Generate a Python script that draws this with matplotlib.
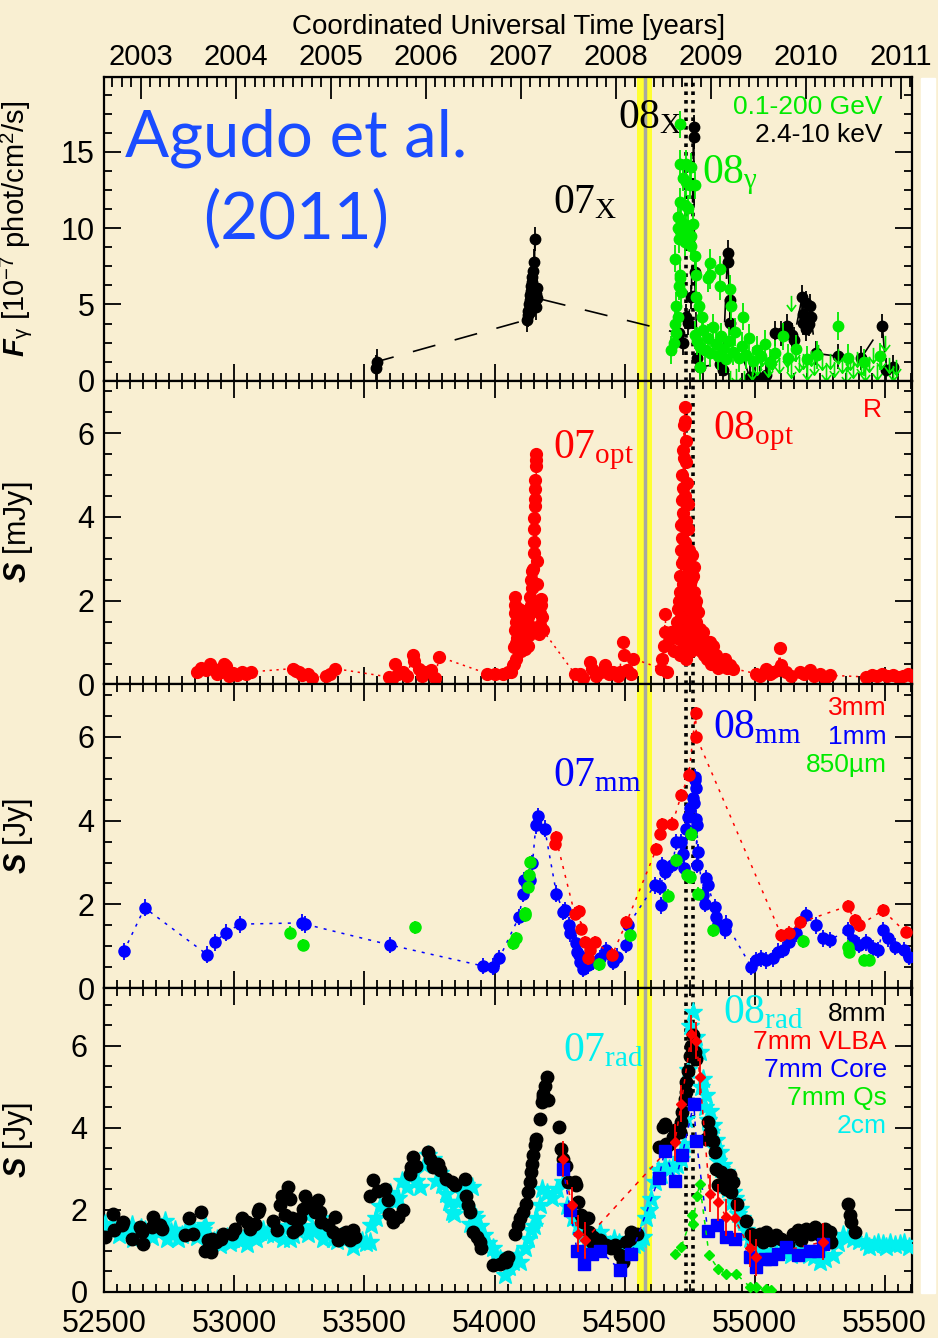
import numpy as np
import matplotlib.pyplot as plt
from matplotlib.ticker import MultipleLocator, FormatStrFormatter
from matplotlib.path import Path
from matplotlib.patches import Rectangle

plt.rcParams['font.family'] = 'Liberation Sans'
plt.rcParams['mathtext.fontset'] = 'custom'
plt.rcParams['mathtext.rm'] = 'Liberation Serif'
plt.rcParams['mathtext.it'] = 'Liberation Serif:italic'
plt.rcParams['mathtext.bf'] = 'Liberation Sans:bold:italic'
plt.rcParams['mathtext.sf'] = 'Liberation Sans'

BG = '#f9efd2'
GREEN = '#00ea00'
RED = '#ff0000'
BLUE = '#0000ff'
CYAN = '#00f0f0'
BLACK = '#000000'

# --- light curves (MJD, flux) ---
# X-ray 2.4-10 keV, 1e-7 phot/cm2/s
xray = [(53546, 0.86), (53548, 1.25),
        (54125, 4.0), (54128, 4.3), (54130, 4.6), (54133, 5.0), (54135, 4.5), (54136, 5.3),
        (54138, 5.6), (54140, 5.9), (54142, 6.2), (54144, 6.5), (54146, 6.8), (54148, 7.2),
        (54150, 7.8), (54152, 5.5), (54155, 9.3), (54156, 5.2), (54158, 4.8), (54160, 5.7),
        (54162, 6.1), (54165, 5.4),
        (54711, 3.1), (54723, 2.5), (54737, 4.2), (54742, 3.8), (54757, 5.5), (54765, 16.6),
        (54766, 16.0), (54769, 7.1), (54780, 1.5), (54789, 0.9), (54865, 1.1), (54877, 0.7),
        (54896, 8.4), (54897, 7.8), (54904, 5.3), (54905, 3.8), (54981, 0.26), (55019, 0.15),
        (55045, 0.4), (55080, 3.1), (55100, 3.1), (55126, 3.6), (55145, 3.0), (55150, 2.7),
        (55183, 5.5), (55184, 3.8), (55185, 4.4), (55198, 5.1), (55199, 3.4), (55210, 3.7),
        (55213, 4.9), (55217, 4.2), (55234, 1.8), (55320, 1.6), (55410, 1.5), (55491, 3.6),
        (55505, 0.7), (55530, 0.9)]

# gamma-ray 0.1-200 GeV detections
gamma = [(54680, 2.0), (54690, 2.5), (54693, 3.7), (54693, 8.0), (54697, 3.1), (54699, 4.9),
         (54704, 10.0), (54704, 10.7), (54705, 4.2), (54708, 6.2), (54708, 9.3), (54712, 6.7),
         (54712, 6.9), (54712, 9.8), (54712, 11.7), (54712, 14.2), (54712, 16.8), (54716, 5.8),
         (54718, 10.4), (54723, 13.3), (54731, 11.5), (54731, 9.1), (54737, 13.0), (54737, 14.2),
         (54737, 10.2), (54737, 9.7), (54744, 11.3), (54750, 12.8), (54757, 14.0), (54757, 9.5),
         (54757, 8.8), (54763, 10.3), (54769, 12.8), (54769, 8.2), (54770, 3.0), (54773, 6.9),
         (54776, 5.5), (54780, 2.6), (54786, 4.9), (54789, 0.9), (54790, 2.2), (54796, 4.2),
         (54800, 3.3), (54810, 2.0), (54820, 2.8), (54822, 6.7), (54827, 7.7), (54830, 6.9),
         (54830, 1.8), (54840, 3.5), (54850, 2.4), (54860, 1.6), (54865, 7.3), (54865, 6.2),
         (54870, 2.9), (54880, 2.1), (54890, 1.4), (54900, 2.6), (54904, 6.0), (54910, 4.9),
         (54915, 1.9), (54925, 3.2), (54940, 1.5), (54950, 2.3), (54954, 4.2), (54965, 1.7),
         (54980, 2.8), (54995, 1.3), (55010, 2.0), (55025, 1.6), (55040, 2.4), (55060, 1.2),
         (55080, 1.8), (55108, 2.9), (55130, 1.5), (55160, 2.1), (55200, 1.4), (55240, 1.7),
         (55319, 3.6), (55360, 1.5), (55420, 1.2), (55480, 1.6)]

# gamma-ray upper limits
gamma_ul = [(54905, 0.2), (54930, 0.3), (54960, 0.2), (54990, 0.6), (55010, 0.9), (55030, 1.5),
            (55050, 0.8), (55065, 1.2), (55080, 1.6), (55095, 1.0), (55140, 5.1), (55125, 1.4),
            (55140, 0.7), (55155, 1.8), (55170, 1.1), (55185, 1.3), (55200, 0.6), (55215, 1.5),
            (55230, 0.9), (55245, 1.9), (55260, 1.2), (55275, 0.5), (55290, 1.3), (55305, 0.8),
            (55320, 1.6), (55335, 1.0), (55350, 0.4), (55365, 1.2), (55380, 0.7), (55395, 1.4),
            (55410, 0.9), (55425, 0.5), (55440, 1.1), (55455, 1.7), (55470, 0.6), (55485, 1.3),
            (55500, 2.5), (55515, 1.0), (55530, 0.5), (55545, 0.9)]

# optical R band, mJy
optical = [(52857, 0.3), (52870, 0.4), (52890, 0.34), (52905, 0.5), (52920, 0.38), (52935, 0.25),
           (52950, 0.3), (52960, 0.5), (52968, 0.45), (52980, 0.2), (52995, 0.28), (53010, 0.22),
           (53030, 0.3), (53045, 0.26), (53064, 0.3),
           (53225, 0.38), (53235, 0.32), (53248, 0.3), (53260, 0.22), (53283, 0.26), (53300, 0.15),
           (53352, 0.21), (53368, 0.25), (53386, 0.38),
           (53593, 0.18), (53605, 0.12), (53616, 0.5), (53630, 0.25), (53650, 0.3), (53665, 0.2),
           (53685, 0.7), (53690, 0.55), (53708, 0.38), (53720, 0.2), (53731, 0.3), (53754, 0.34),
           (53770, 0.15), (53788, 0.66),
           (53972, 0.26), (54001, 0.26), (54033, 0.26), (54050, 0.3), (54065, 0.3), (54071, 0.46),
           (54075, 0.9), (54076, 0.5), (54077, 1.3), (54078, 1.9), (54079, 1.7), (54080, 2.1),
           (54081, 1.0), (54082, 1.5), (54083, 1.8), (54084, 0.62), (54086, 1.1), (54088, 1.3),
           (54090, 1.6), (54092, 0.95), (54095, 1.8), (54098, 1.65), (54100, 1.25), (54103, 0.8),
           (54105, 1.4), (54108, 1.75), (54110, 1.0), (54112, 1.3), (54115, 1.5), (54118, 0.85),
           (54120, 1.7), (54122, 1.55), (54125, 1.2), (54128, 1.6), (54130, 0.93), (54133, 1.17),
           (54136, 2.1), (54138, 1.4), (54140, 2.5), (54142, 1.9), (54144, 2.7), (54146, 2.3),
           (54148, 2.76), (54150, 3.15), (54151, 3.39), (54152, 3.71),
           (54153, 3.98), (54154, 4.26), (54155, 4.42), (54156, 4.66), (54157, 4.89), (54158, 5.21),
           (54159, 5.37), (54160, 5.49), (54162, 2.95), (54164, 2.4), (54167, 1.96), (54170, 1.73),
           (54172, 1.2), (54174, 1.41), (54176, 1.7), (54178, 2.04), (54180, 1.9), (54182, 1.6),
           (54185, 1.3),
           (54308, 0.26), (54327, 0.26), (54340, 0.15), (54366, 0.54), (54373, 0.38), (54390, 0.2),
           (54410, 0.3), (54424, 0.46), (54440, 0.25), (54456, 0.3), (54475, 0.2), (54481, 0.3),
           (54494, 1.01), (54496, 0.7), (54510, 0.35), (54526, 0.26), (54532, 0.62),
           (54641, 0.38), (54645, 0.62), (54650, 0.93), (54654, 1.25), (54656, 1.69), (54665, 0.3),
           (54673, 1.09), (54678, 1.25), (54690, 0.8), (54700, 1.5), (54702, 1.1), (54705, 1.8),
           (54708, 2.0), (54710, 1.3), (54712, 2.6), (54714, 2.2), (54715, 0.7), (54716, 3.2),
           (54717, 1.6), (54718, 3.8), (54719, 2.9), (54720, 4.4), (54721, 3.5), (54722, 5.0),
           (54723, 4.1), (54724, 2.4), (54725, 5.6), (54725, 1.0), (54726, 4.7), (54727, 3.0),
           (54728, 6.2), (54729, 5.4), (54730, 2.0), (54730, 3.9), (54731, 6.63), (54732, 4.5),
           (54733, 6.3), (54734, 3.4), (54735, 5.8), (54735, 0.6), (54736, 2.6), (54737, 5.3),
           (54738, 3.9), (54739, 2.1), (54740, 4.8), (54740, 1.2), (54741, 3.0), (54742, 4.3),
           (54743, 2.3), (54744, 1.4), (54745, 3.7), (54745, 0.9), (54746, 2.7), (54747, 1.8),
           (54748, 3.2), (54749, 2.2), (54750, 2.8), (54750, 1.5), (54752, 2.4), (54753, 1.2),
           (54755, 2.0), (54755, 0.8), (54757, 2.5), (54758, 1.6), (54759, 1.1), (54760, 3.1),
           (54762, 1.9), (54763, 2.6), (54765, 1.4), (54766, 2.2), (54768, 2.8), (54770, 1.9),
           (54772, 1.0), (54775, 1.5), (54776, 2.0), (54778, 1.2), (54780, 0.9), (54782, 1.73),
           (54785, 1.2), (54789, 1.33), (54793, 0.8), (54797, 1.1), (54801, 1.25), (54805, 0.7),
           (54810, 0.9), (54815, 0.6), (54820, 0.75), (54827, 1.01), (54833, 0.5), (54840, 0.93),
           (54853, 0.7), (54860, 0.4), (54870, 0.55), (54877, 0.45), (54885, 0.62), (54895, 0.4),
           (54904, 0.46), (54917, 0.38),
           (55006, 0.26), (55020, 0.2), (55045, 0.38), (55060, 0.25), (55070, 0.3), (55090, 0.35),
           (55096, 0.86), (55100, 0.46), (55122, 0.3), (55140, 0.2), (55173, 0.3), (55190, 0.25),
           (55211, 0.34), (55230, 0.2), (55250, 0.26), (55270, 0.15), (55288, 0.22),
           (55429, 0.18), (55450, 0.22), (55470, 0.2), (55490, 0.25), (55510, 0.2), (55530, 0.22),
           (55550, 0.18), (55570, 0.2), (55590, 0.25), (55605, 0.2)]

# mm-wave, Jy
mm1 = [(52575, 0.88), (52655, 1.92), (52896, 0.8), (52926, 1.1), (52967, 1.33), (53023, 1.53),
       (53260, 1.56), (53271, 1.53), (53600, 1.03), (53956, 0.53), (53995, 0.51), (54018, 0.71),
       (54094, 1.7), (54110, 2.26), (54115, 2.58), (54125, 2.46), (54136, 2.58), (54146, 2.98),
       (54159, 3.89), (54167, 4.11), (54193, 3.81), (54238, 2.26), (54265, 1.82), (54270, 1.86),
       (54285, 1.5), (54289, 1.31), (54315, 1.07), (54318, 0.87), (54325, 0.79), (54330, 0.63),
       (54340, 0.47), (54360, 0.55), (54380, 0.63), (54405, 0.71), (54430, 0.91), (54449, 0.79),
       (54456, 0.63), (54469, 0.75), (54507, 1.03), (54513, 1.5), (54616, 2.46), (54635, 2.42),
       (54641, 1.98), (54645, 2.94), (54654, 2.78), (54684, 2.94), (54699, 3.49), (54718, 3.49),
       (54725, 3.21), (54727, 2.86), (54737, 3.81), (54744, 4.09), (54750, 4.29), (54763, 4.53),
       (54766, 4.41), (54769, 4.96), (54772, 5.04), (54775, 4.77), (54776, 4.05), (54777, 2.94),
       (54778, 3.89), (54782, 3.25), (54801, 2.22), (54810, 2.02), (54814, 2.62), (54820, 2.46),
       (54846, 1.94), (54850, 1.70), (54859, 1.54), (54885, 1.38), (54891, 1.54), (54987, 0.51),
       (55006, 0.67), (55025, 0.71), (55045, 0.67), (55070, 0.71), (55090, 0.87), (55109, 0.91),
       (55134, 1.10), (55160, 1.31), (55199, 1.74), (55234, 1.5), (55262, 1.19), (55288, 1.15),
       (55358, 1.38), (55378, 1.15), (55403, 1.03), (55429, 1.1), (55455, 0.95), (55474, 0.91),
       (55493, 1.38), (55512, 1.19), (55538, 0.99), (55576, 0.91), (55595, 0.75)]

mm3 = [(54231, 3.45), (54235, 3.61), (54308, 1.78), (54325, 1.84), (54334, 1.42), (54347, 1.1),
       (54360, 0.71), (54366, 0.91), (54385, 1.1), (54453, 0.8), (54507, 1.57), (54622, 3.32),
       (54635, 3.69), (54645, 3.91), (54684, 3.93), (54718, 4.61), (54747, 5.1), (54773, 6.56),
       (54776, 6.0), (55103, 1.26), (55132, 1.33), (55176, 1.57), (55358, 1.96), (55384, 1.62),
       (55403, 1.5), (55493, 1.86), (55580, 1.34)]

sub850 = [(53213, 1.33), (53262, 1.03), (53696, 1.45), (54071, 1.07), (54081, 1.19), (54116, 1.8),
          (54119, 1.74), (54128, 2.42), (54132, 2.70), (54135, 3.01), (54403, 0.57), (54520, 1.26),
          (54667, 2.21), (54699, 3.05), (54740, 2.7), (54750, 2.66), (54757, 3.69), (54782, 2.26),
          (54840, 1.38), (55186, 1.12), (55358, 0.99), (55362, 0.87), (55420, 0.67), (55440, 0.67)]

# cm-wave and VLBA, Jy
mm8 = [(52503, 1.34), (52535, 1.91), (52537, 1.5), (52567, 1.62), (52573, 1.70), (52605, 1.30),
       (52637, 1.58), (52645, 1.46), (52650, 1.18), (52682, 1.58), (52686, 1.82), (52714, 1.62),
       (52720, 1.54), (52810, 1.38), (52827, 1.79), (52842, 1.42), (52872, 1.95), (52887, 1.01),
       (52900, 1.26), (52910, 0.97), (52913, 1.30), (52930, 1.22), (52950, 1.30), (52957, 1.42),
       (52989, 1.42), (53002, 1.54), (53028, 1.79), (53047, 1.70), (53060, 1.54), (53079, 1.66),
       (53092, 1.95), (53096, 2.03), (53149, 1.74), (53162, 1.50), (53175, 2.11), (53182, 2.35),
       (53194, 1.87), (53207, 2.56), (53213, 2.27), (53220, 1.79), (53226, 1.46), (53239, 1.54),
       (53252, 1.79), (53265, 2.03), (53271, 2.35), (53284, 2.19), (53297, 2.11), (53310, 1.95),
       (53322, 2.23), (53329, 1.95), (53333, 1.70), (53361, 1.62), (53380, 1.46), (53386, 1.82),
       (53399, 1.26), (53412, 1.42), (53431, 1.46), (53444, 1.26), (53457, 1.50), (53463, 1.34),
       (53521, 2.35), (53531, 2.72), (53553, 2.47), (53578, 2.51), (53591, 2.23), (53595, 1.91),
       (53610, 1.70), (53630, 1.82), (53649, 1.99), (53674, 2.88), (53678, 3.04), (53687, 3.29),
       (53700, 3.08), (53745, 3.41), (53751, 3.24), (53764, 3.04), (53783, 3.12), (53790, 2.96),
       (53815, 2.76), (53835, 2.68), (53847, 2.60), (53886, 2.76), (53892, 2.35), (53899, 2.11),
       (53905, 1.95), (53918, 1.46), (53931, 1.34), (53943, 1.22), (53950, 1.06), (53995, 0.65),
       (54020, 0.69), (54040, 0.81), (54046, 0.74), (54052, 0.85), (54078, 1.42), (54091, 1.62),
       (54097, 1.79), (54110, 1.95), (54120, 2.15), (54129, 2.44), (54136, 2.68), (54142, 2.92),
       (54146, 3.12), (54148, 3.33), (54155, 3.57), (54161, 3.73), (54174, 4.22), (54181, 4.63),
       (54185, 4.75), (54188, 4.83), (54193, 5.03), (54200, 5.24), (54206, 4.67), (54248, 4.01),
       (54257, 3.49), (54263, 3.25), (54274, 3.08), (54283, 2.68), (54308, 2.68), (54312, 2.60),
       (54321, 2.19), (54334, 1.87), (54340, 1.70), (54360, 1.79), (54362, 1.46), (54373, 1.22),
       (54379, 1.34), (54405, 1.26), (54430, 1.14), (54449, 1.06), (54462, 1.14), (54481, 0.89),
       (54494, 0.73), (54507, 1.22), (54520, 1.30), (54526, 1.46), (54546, 1.42), (54632, 3.53),
       (54648, 4.01), (54654, 4.10), (54661, 3.61), (54668, 3.57), (54686, 3.77), (54693, 3.94),
       (54712, 3.89), (54718, 4.14), (54722, 4.38), (54731, 4.71), (54737, 4.87), (54737, 5.11),
       (54744, 5.39), (54750, 5.76), (54757, 6.00), (54763, 6.25), (54769, 5.85), (54776, 5.68),
       (54814, 3.73), (54820, 4.14), (54827, 3.89), (54840, 3.69), (54846, 3.41), (54853, 3.00),
       (54859, 2.60), (54872, 2.92), (54885, 2.80), (54891, 2.52), (54904, 2.84), (54910, 2.43),
       (54917, 2.68), (54932, 2.15), (54968, 1.74), (54987, 1.42), (55000, 1.30), (55019, 1.42),
       (55032, 1.22), (55045, 1.46), (55064, 1.26), (55083, 1.38), (55103, 1.30), (55128, 1.18),
       (55147, 1.42), (55166, 1.50), (55179, 1.26), (55199, 1.54), (55218, 1.42), (55231, 1.58),
       (55250, 1.38), (55269, 1.54), (55288, 1.46), (55294, 1.22), (55358, 2.15), (55365, 1.87),
       (55371, 1.70), (55384, 1.46)]

cm2 = [(52503, 1.66), (52520, 1.5), (52540, 1.5), (52555, 1.4), (52570, 1.45), (52590, 1.55),
       (52605, 1.62), (52611, 1.30), (52625, 1.35), (52640, 1.55), (52655, 1.5), (52669, 1.42),
       (52685, 1.35), (52700, 1.6), (52715, 1.5), (52733, 1.74), (52740, 1.30), (52755, 1.45),
       (52770, 1.5), (52785, 1.3), (52797, 1.38), (52815, 1.5), (52842, 1.58), (52855, 1.35),
       (52870, 1.45), (52880, 1.5), (52887, 1.62), (52900, 1.30), (52920, 1.25), (52935, 1.3),
       (52945, 1.14), (52970, 1.35), (52985, 1.2), (52996, 1.30), (53020, 1.25), (53035, 1.3),
       (53047, 1.18), (53070, 1.35), (53085, 1.3), (53098, 1.46), (53110, 1.5), (53124, 1.42),
       (53150, 1.4), (53170, 1.45), (53188, 1.30), (53200, 1.6), (53213, 1.30), (53225, 1.4),
       (53240, 1.5), (53260, 1.6), (53278, 1.87), (53284, 1.42), (53300, 1.55), (53315, 1.5),
       (53329, 1.79), (53340, 1.3), (53350, 1.5), (53365, 1.45), (53380, 1.30), (53395, 1.25),
       (53410, 1.35), (53430, 1.3), (53457, 1.10), (53475, 1.3), (53490, 1.25), (53505, 1.2),
       (53521, 1.22), (53527, 1.62), (53545, 1.8), (53560, 2.1), (53580, 2.1), (53600, 2.4),
       (53615, 2.2), (53630, 2.3), (53645, 2.7), (53662, 2.56), (53675, 2.8), (53690, 2.9),
       (53700, 2.7), (53713, 2.56), (53730, 3.1), (53745, 3.33), (53764, 3.24), (53775, 2.7),
       (53790, 2.9), (53800, 2.6), (53815, 2.39), (53825, 2.2), (53835, 1.95), (53845, 1.9),
       (53860, 2.2), (53875, 2.4), (53890, 2.6), (53905, 1.66), (53912, 2.56), (53920, 1.9),
       (53930, 1.8), (53945, 1.6), (53960, 1.4), (53975, 1.2), (53995, 1.06), (54005, 0.9),
       (54020, 0.8), (54040, 0.41), (54055, 0.6), (54071, 0.73), (54085, 0.9), (54097, 0.73),
       (54116, 1.06), (54130, 1.3), (54140, 1.5), (54150, 1.6), (54160, 1.8), (54174, 2.11),
       (54181, 2.52), (54200, 2.4), (54220, 2.3), (54240, 2.5), (54263, 2.68), (54280, 2.1),
       (54300, 1.8), (54320, 1.6), (54340, 1.38), (54355, 1.25), (54370, 1.2), (54390, 1.3),
       (54405, 1.46), (54425, 1.2), (54443, 1.14), (54460, 1.3), (54480, 1.2), (54500, 1.15),
       (54520, 1.10), (54535, 1.15), (54550, 1.2), (54560, 1.3), (54571, 1.34), (54584, 1.79),
       (54595, 2.0), (54603, 2.27), (54616, 2.68), (54629, 2.96), (54640, 2.85), (54654, 3.08),
       (54670, 3.0), (54686, 3.08), (54700, 3.1), (54718, 3.24), (54728, 3.6), (54737, 4.22),
       (54745, 5.4), (54750, 6.49), (54763, 6.81), (54775, 6.2), (54789, 5.84), (54795, 5.0),
       (54800, 5.2), (54808, 4.5), (54814, 4.79), (54820, 4.2), (54828, 4.4), (54834, 3.9),
       (54840, 4.06), (54846, 3.5), (54852, 3.7), (54858, 3.2), (54865, 3.41), (54872, 3.0),
       (54878, 3.1), (54885, 2.6), (54891, 2.92), (54898, 2.5), (54905, 2.7), (54912, 2.2),
       (54917, 2.43), (54925, 2.3), (54930, 2.2), (54937, 1.9), (54942, 2.03), (54950, 1.8),
       (54960, 1.7), (54967, 1.5), (54974, 1.46), (54982, 1.3), (54990, 1.25), (54998, 1.1),
       (55006, 1.06), (55020, 0.95), (55040, 1.0), (55060, 0.9), (55083, 0.97), (55100, 1.0),
       (55120, 1.1), (55140, 0.9), (55173, 1.06), (55190, 1.0), (55210, 0.9), (55230, 0.85),
       (55250, 0.73), (55270, 0.8), (55301, 0.89), (55320, 1.2), (55340, 1.4), (55360, 1.35),
       (55378, 1.30), (55400, 1.25), (55429, 1.22), (55440, 1.1), (55460, 1.15), (55475, 1.2),
       (55493, 1.18), (55505, 1.1), (55520, 1.2), (55540, 1.15), (55557, 1.18), (55575, 1.2),
       (55595, 1.10)]

vlba_tot = [(54263, 3.24), (54296, 2.11), (54321, 1.42), (54347, 1.26), (54693, 3.65),
            (54718, 4.59), (54757, 6.29), (54776, 6.12), (54789, 5.24), (54827, 2.39),
            (54859, 2.19), (54891, 1.82), (54923, 1.79), (54981, 1.06), (55006, 0.85), (55262, 1.22)]

vlba_core = [(54263, 3.00), (54292, 1.99), (54317, 1.01), (54343, 0.67), (54373, 0.93),
             (54405, 1.01), (54484, 0.53), (54526, 0.93), (54632, 2.78), (54654, 3.43),
             (54695, 2.70), (54721, 3.33), (54766, 4.59), (54776, 3.67), (54820, 1.48),
             (54855, 1.62), (54889, 1.34), (54926, 1.28), (54983, 0.85), (55006, 0.61),
             (55038, 0.81), (55064, 0.81), (55090, 0.93), (55122, 1.10), (55166, 0.89),
             (55211, 1.01), (55243, 1.01), (55262, 1.18)]

vlba_qs = [(54693, 0.93), (54718, 1.10), (54761, 1.88), (54763, 1.66), (54778, 2.34),
           (54789, 2.62), (54825, 0.89), (54859, 0.57), (54889, 0.43), (54927, 0.45),
           (54981, 0.13), (55006, 0.13), (55045, 0.07), (55064, 0.04)]

year_ticks = [2003, 2004, 2005, 2006, 2007, 2008, 2009, 2010, 2011]
band_mjd = (54548, 54606)
band_mid = 54577
dotted_mjd = [54737, 54763]


def cols(pairs):
    arr = np.array(sorted(pairs, key=lambda p: p[0]), dtype=float)
    return arr[:, 0], arr[:, 1]


def mjd2yr(m):
    return 2000.0 + (np.asarray(m) - 51544.0) / 365.25


def yr2mjd(y):
    return 51544.0 + (np.asarray(y) - 2000.0) * 365.25


def style_ax(ax, ymax, ymajor, yminor):
    ax.set_facecolor(BG)
    ax.set_xlim(52500, 55605)
    ax.set_ylim(0, ymax)
    ax.xaxis.set_major_locator(MultipleLocator(500))
    ax.xaxis.set_minor_locator(MultipleLocator(50))
    ax.yaxis.set_major_locator(MultipleLocator(ymajor))
    ax.yaxis.set_minor_locator(MultipleLocator(yminor))
    ax.yaxis.set_major_formatter(FormatStrFormatter('%d'))
    ax.xaxis.set_major_formatter(FormatStrFormatter('%d'))
    ax.tick_params(which='both', direction='in', top=True, right=True, width=1.3,
                   labelsize=22, labelbottom=False, pad=7)
    ax.tick_params(which='major', length=12)
    ax.tick_params(which='minor', length=6)
    for s in ax.spines.values():
        s.set_linewidth(1.6)
    # yellow band and the two dotted epochs
    ax.axvspan(band_mjd[0], band_mjd[1], color='#ffff30', lw=0, zorder=0.5)
    ax.axvline(band_mid, color='#a8a8a0', lw=2.5, zorder=0.6)
    for m in dotted_mjd:
        ax.axvline(m, color='black', lw=2.6, ls=(0, (1.0, 1.4)), zorder=0.7)


def points(ax, pairs, color, marker='o', ms=7.5, err=0.0, line=None, z=3):
    x, y = cols(pairs)
    if line:
        ax.plot(x, y, ls=line, color=color, lw=1.1, zorder=z - 0.5)
    ax.errorbar(x, y, yerr=err if err else None, fmt=marker, ms=ms, color=color,
                mec=color, mfc=color, ecolor=color, elinewidth=1.3, capsize=0,
                ls='none', zorder=z)


def legend_lines(ax, entries, x, ys, size=19):
    for (label, color), y in zip(entries, ys):
        ax.text(x, y, label, color=color, fontsize=size, ha='right', va='center',
                transform=ax.transAxes)


fig = plt.figure(figsize=(9.38, 13.38), dpi=100, facecolor=BG)
fig.subplots_adjust(left=0.1112, right=0.9723, top=1 - 77 / 1338, bottom=0.0344, hspace=0)
axs = fig.subplots(4, 1, sharex=False)
ax1, ax2, ax3, ax4 = axs

style_ax(ax1, 19.9, 5, 1.25)
style_ax(ax2, 7.25, 2, 0.5)
style_ax(ax3, 7.25, 2, 0.5)
style_ax(ax4, 7.4, 2, 0.5)
ax1.tick_params(which='both', top=False)
ax4.tick_params(labelbottom=True, pad=12)

# year axis on top
sec = ax1.secondary_xaxis('top', functions=(mjd2yr, yr2mjd))
sec.set_xticks(year_ticks)
sec.xaxis.set_minor_locator(MultipleLocator(0.1))
sec.xaxis.set_major_formatter(FormatStrFormatter('%d'))
sec.tick_params(which='both', direction='in', width=1.3, labelsize=21, pad=4)
sec.tick_params(which='major', length=16)
sec.tick_params(which='minor', length=7)
sec.set_xlabel('Coordinated Universal Time [years]', fontsize=20, labelpad=7)

# --- panel 1: gamma-rays and X-rays ---
xx, xy = cols(xray)
ax1.plot(xx, xy, color='black', lw=1.2, ls=(0, (14, 12)), zorder=2)
points(ax1, xray, BLACK, ms=7.5, err=0.8, z=3)
points(ax1, gamma, GREEN, ms=7.5, err=0.9, z=4)
ul_marker = Path([(0, 1), (0, -1), (-0.6, -0.2), (0, -1), (0.6, -0.2)],
                 [Path.MOVETO, Path.LINETO, Path.MOVETO, Path.LINETO, Path.LINETO])
ux, uy = cols(gamma_ul)
ax1.plot(ux, uy, ls='none', marker=ul_marker, ms=11, mec=GREEN, mfc='none', mew=1.2, zorder=4)
ax1.set_ylabel(r'$\mathbf{F}_{\mathsf{\gamma}}$ [10$^{\mathsf{-7}}$ phot/cm$^{\mathsf{2}}$/s]',
               fontsize=21)
ax1.yaxis.set_label_coords(-0.086, 0.5)

t1 = ax1.transAxes
legend_lines(ax1, [('0.1-200 GeV', GREEN), ('2.4-10 keV', BLACK)], 0.963, [0.901, 0.809])
ax1.text(0.636, 0.832, r'$\mathrm{08_{X}}$', color=BLACK, fontsize=30, ha='left', va='baseline', transform=t1)
ax1.text(0.740, 0.650, r'$\mathrm{08_{\gamma}}$', color=GREEN, fontsize=30, ha='left', va='baseline', transform=t1)
ax1.text(0.556, 0.552, r'$\mathrm{07_{X}}$', color=BLACK, fontsize=30, ha='left', va='baseline', transform=t1)
ax1.text(0.2373, 0.737, 'Agudo et al.', color='#1a4cff', fontsize=47, family='Lato',
         ha='center', va='baseline', transform=t1)
ax1.text(0.2373, 0.533, '(2011)', color='#1a4cff', fontsize=47, family='Lato',
         ha='center', va='center', transform=t1)

# --- panel 2: optical ---
points(ax2, optical, RED, ms=8.5, line=(0, (1.5, 3)), z=3)
ax2.set_ylabel(r'$\mathbf{S}$ [mJy]', fontsize=22)
ax2.yaxis.set_label_coords(-0.086, 0.5)
t2 = ax2.transAxes
legend_lines(ax2, [('R', RED)], 0.9625, [0.905])
ax2.text(0.556, 0.746, r'$\mathrm{07_{opt}}$', color=RED, fontsize=30, ha='left', va='baseline', transform=t2)
ax2.text(0.754, 0.806, r'$\mathrm{08_{opt}}$', color=RED, fontsize=30, ha='left', va='baseline', transform=t2)

# --- panel 3: mm-wave ---
points(ax3, mm1, BLUE, ms=8, err=0.2, line=(0, (2, 4)), z=3)
points(ax3, sub850, GREEN, ms=8, err=0.15, z=3.5)
points(ax3, mm3, RED, ms=8, err=0.15, line=(0, (2, 4)), z=4)
ax3.set_ylabel(r'$\mathbf{S}$ [Jy]', fontsize=22)
ax3.yaxis.set_label_coords(-0.086, 0.5)
t3 = ax3.transAxes
legend_lines(ax3, [('3mm', RED), ('1mm', BLUE), ('850\u00b5m', GREEN)], 0.969,
             [0.921, 0.828, 0.736])
ax3.text(0.555, 0.664, r'$\mathrm{07_{mm}}$', color=BLUE, fontsize=30, ha='left', va='baseline', transform=t3)
ax3.text(0.754, 0.824, r'$\mathrm{08_{mm}}$', color=BLUE, fontsize=30, ha='left', va='baseline', transform=t3)

# --- panel 4: cm-wave and VLBA ---
points(ax4, cm2, CYAN, marker='*', ms=14, z=2.5)
points(ax4, mm8, BLACK, ms=9, err=0.12, z=3)
points(ax4, vlba_core, BLUE, marker='s', ms=8, line=(0, (3, 4)), z=4)
points(ax4, vlba_tot, RED, marker='D', ms=5.5, err=0.45, line=(0, (3, 4)), z=4.5)
points(ax4, vlba_qs, GREEN, marker='D', ms=5.5, line=(0, (3, 4)), z=5)
ax4.set_ylabel(r'$\mathbf{S}$ [Jy]', fontsize=22)
ax4.yaxis.set_label_coords(-0.086, 0.5)
t4 = ax4.transAxes
legend_lines(ax4, [('8mm', BLACK), ('7mm VLBA', RED), ('7mm Core', BLUE),
                   ('7mm Qs', GREEN), ('2cm', CYAN)], 0.969,
             [0.9145, 0.8224, 0.7303, 0.6382, 0.5461])
ax4.text(0.568, 0.758, r'$\mathrm{07_{rad}}$', color=CYAN, fontsize=30, ha='left', va='baseline', transform=t4)
ax4.text(0.766, 0.884, r'$\mathrm{08_{rad}}$', color=CYAN, fontsize=30, ha='left', va='baseline', transform=t4)

# white strip along the right edge
fig.patches.append(Rectangle((921 / 938, 1 - 1293 / 1338), 14 / 938, (1293 - 78) / 1338,
                             transform=fig.transFigure, color='white', zorder=0))

fig.savefig('out.png', dpi=100, facecolor=BG)
